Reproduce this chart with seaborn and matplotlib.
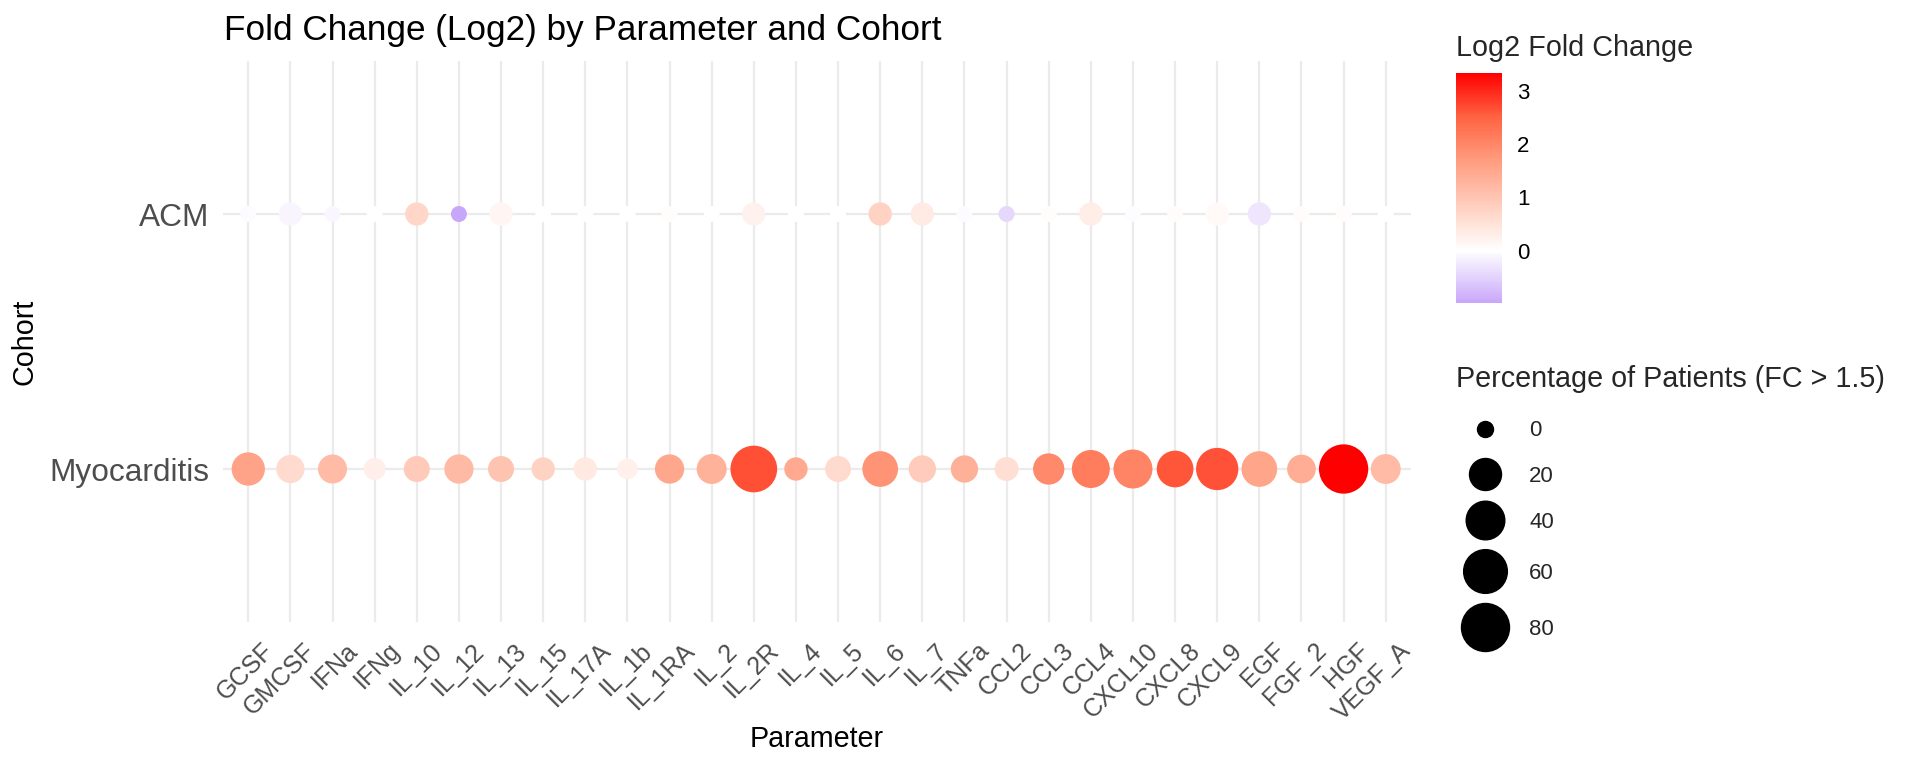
import numpy as np
import pandas as pd
import matplotlib
matplotlib.use("Agg")
import matplotlib.pyplot as plt
from matplotlib.colors import LinearSegmentedColormap, Normalize
from matplotlib.cm import ScalarMappable
from matplotlib.lines import Line2D
from matplotlib.legend_handler import HandlerBase
from matplotlib.transforms import ScaledTranslation
import seaborn as sns

sns.set_theme(style="white")
plt.rcParams["font.family"] = ["Liberation Sans", "DejaVu Sans"]

parameters = ["GCSF", "GMCSF", "IFNa", "IFNg", "IL_10", "IL_12", "IL_13", "IL_15",
              "IL_17A", "IL_1b", "IL_1RA", "IL_2", "IL_2R", "IL_4", "IL_5", "IL_6",
              "IL_7", "TNFa", "CCL2", "CCL3", "CCL4", "CXCL10", "CXCL8", "CXCL9",
              "EGF", "FGF_2", "HGF", "VEGF_A"]

# Myocarditis cohort (bottom row)
myo_log2fc = [1.57, 0.62, 1.16, 0.29, 0.91, 1.19, 1.02, 0.76, 0.40, 0.26, 1.50, 1.31,
              2.66, 1.45, 0.63, 1.83, 0.89, 1.36, 0.58, 1.96, 2.14, 2.04, 2.61, 2.64,
              1.53, 1.39, 3.33, 1.16]
myo_pct = [23.4, 11.8, 13.2, 2.8, 7.8, 13.8, 7.8, 4.2, 4.2, 1.7, 13.8, 15.3,
           73.6, 4.2, 7.8, 30.3, 10.0, 10.0, 5.0, 18.3, 37.8, 41.3, 33.5, 54.0,
           30.3, 12.6, 86.6, 15.3]

# ACM cohort (top row)
acm_log2fc = [-0.05, -0.12, -0.10, 0.0, 0.72, -0.98, 0.17, 0.01, -0.02, 0.01, 0.04, 0.0,
              0.24, 0.0, 0.0, 0.78, 0.36, -0.04, -0.45, 0.04, 0.31, -0.03, 0.06, 0.10,
              -0.28, 0.05, 0.05, 0.0]
acm_pct = [0, 4.17, 0, 0, 4.17, 0, 4.17, 0, 0, 0, 0, 0,
           4.17, 0, 0, 4.17, 4.17, 0, 0, 0, 4.17, 0, 0, 4.17,
           4.17, 0, 0, 0]

size_breaks = [0, 20, 40, 60, 80]
color_ticks = [0, 1, 2, 3]

# gradient stops: lavender below zero, white at zero, red above
grad_values = [-0.98, -0.49, 0.0, 0.83, 1.66, 2.5, 3.33]
grad_colors = ["#C8A6FA", "#E4D4FD", "#FFFFFF", "#FFCFBF", "#FF9E81", "#FF6443", "#FF0000"]

df = pd.DataFrame({
    "Parameter": parameters * 2,
    "Cohort": ["Myocarditis"] * len(parameters) + ["ACM"] * len(parameters),
    "log2fc": myo_log2fc + acm_log2fc,
    "pct": myo_pct + acm_pct,
})


def dot_pt(p):
    # diameter in points, sqrt scaling like ggplot's scale_size
    return (16 + 32 * np.sqrt(p / 80.0)) * 0.72


class SizedDot(HandlerBase):
    # legend key that grows with the dot, like ggplot keys do
    def legend_artist(self, legend, orig_handle, fontsize, handlebox):
        ms = orig_handle.get_markersize()
        h = max(25.2, ms)
        handlebox.height = h
        handlebox.ydescent = h / 2 - 0.36 * fontsize
        dot = Line2D([handlebox.width / 2], [0.36 * fontsize], marker="o", linestyle="",
                     color="black", markersize=ms)
        handlebox.add_artist(dot)
        return dot


norm = Normalize(df["log2fc"].min(), df["log2fc"].max())
pos = list(np.clip(norm(grad_values), 0, 1))
pos[0], pos[-1] = 0.0, 1.0
cmap = LinearSegmentedColormap.from_list("fc", list(zip(pos, grad_colors)))

W, H = 1920, 768
fig = plt.figure(figsize=(19.2, 7.68), dpi=100)
ax = fig.add_axes([223 / W, 1 - 622 / H, 1188 / W, 561 / H])

size_map = {p: dot_pt(p) ** 2 for p in df["pct"].unique()}
sns.scatterplot(data=df, x="Parameter", y="Cohort", hue="log2fc", size="pct",
                palette=cmap, hue_norm=norm, sizes=size_map, linewidth=0,
                legend=False, ax=ax, zorder=3)

ax.set_xlim(-0.6, len(parameters) - 0.4)
ax.set_ylim(-0.6, 1.6)
ax.set_axisbelow(True)
ax.grid(True, color="#EBEBEB", linewidth=1.6)
for s in ax.spines.values():
    s.set_visible(False)
ax.tick_params(axis="both", length=0)
ax.tick_params(axis="x", pad=10, labelsize=18, labelcolor="#4D4D4D")
ax.tick_params(axis="y", pad=10, labelsize=22.8, labelcolor="#4D4D4D")
shift = ScaledTranslation(0.13, -0.025, fig.dpi_scale_trans)
for lab in ax.get_xticklabels():
    lab.set_rotation(45)
    lab.set_ha("right")
    lab.set_va("top")
    lab.set_rotation_mode("anchor")
    lab.set_transform(lab.get_transform() + shift)

ax.set_xlabel("Parameter", fontsize=20.7, color="black", va="baseline")
ax.xaxis.set_label_coords(0.5, -(747 - 622) / 561)
ax.set_ylabel("Cohort", fontsize=20.7, color="black", va="center")
ax.yaxis.set_label_coords(-(223 - 24) / 1188, 0.5)

fig.text(224 / W, 1 - 40 / H, "Fold Change (Log2) by Parameter and Cohort",
         fontsize=25.3, ha="left", va="baseline", color="black")

# colour bar legend
cax = fig.add_axes([1456 / W, 1 - 303 / H, 46 / W, 230 / H])
cb = fig.colorbar(ScalarMappable(norm=norm, cmap=cmap), cax=cax, ticks=color_ticks)
cb.outline.set_visible(False)
cax.tick_params(axis="y", direction="in", length=7, width=1, color="white",
                left=True, right=True, labelleft=False, labelright=True,
                labelsize=16, labelcolor="black", pad=11)
fig.text(1456 / W, 1 - 56 / H, "Log2 Fold Change", fontsize=20.7, ha="left", va="baseline")

# size legend
fig.text(1456 / W, 1 - 387 / H, "Percentage of Patients (FC > 1.5)", fontsize=20.7,
         ha="left", va="baseline")
handles = [Line2D([], [], marker="o", linestyle="", color="black", markersize=dot_pt(v))
           for v in size_breaks]
fig.legend(handles, [str(v) for v in size_breaks], handler_map={Line2D: SizedDot()},
           loc="upper left", bbox_to_anchor=(1456 / W, 1 - 411 / H), frameon=False,
           fontsize=16, borderpad=0, borderaxespad=0, handlelength=2.61,
           handletextpad=0.675, labelspacing=0.45)

fig.savefig("out.png", dpi=100)
